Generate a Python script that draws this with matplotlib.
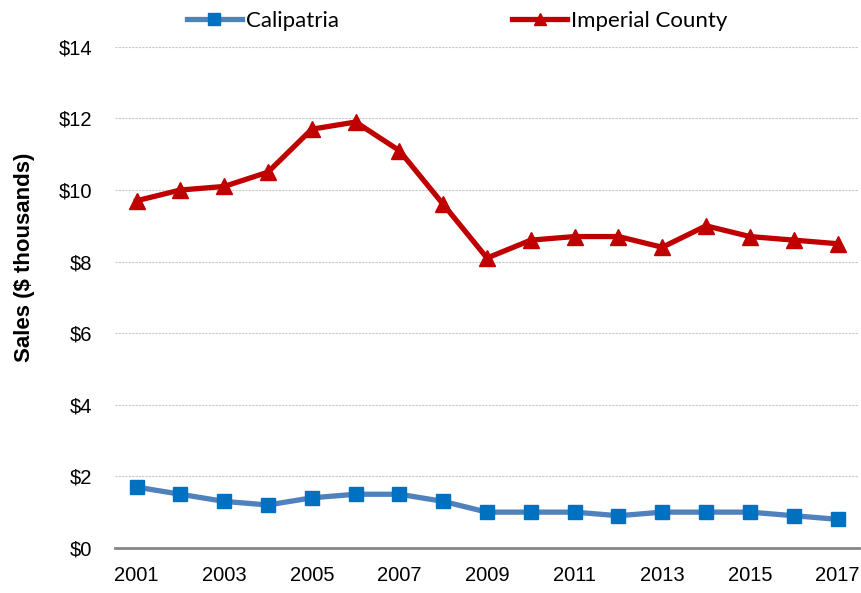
import matplotlib
matplotlib.use("Agg")
import matplotlib.pyplot as plt
from matplotlib.ticker import FuncFormatter

years = list(range(2001, 2018))
calipatria = [1.7, 1.5, 1.3, 1.2, 1.4, 1.5, 1.5, 1.3, 1.0, 1.0, 1.0, 0.9, 1.0, 1.0, 1.0, 0.9, 0.8]
imperial = [9.7, 10.0, 10.1, 10.5, 11.7, 11.9, 11.1, 9.6, 8.1, 8.6, 8.7, 8.7, 8.4, 9.0, 8.7, 8.6, 8.5]
x_ticks = list(range(2001, 2018, 2))
y_ticks = list(range(0, 15, 2))

tick_font = ["Liberation Sans", "DejaVu Sans"]

fig = plt.figure(figsize=(8.62, 5.93), dpi=100)
ax = fig.add_axes([0.133, 0.076, 0.864, 0.845])

ax.plot(years, calipatria, color="#4F81BD", lw=3.8, marker="s", ms=10,
        mfc="#0070C0", mec="#0070C0", label="Calipatria", zorder=3)
ax.plot(years, imperial, color="#C00000", lw=3.8, marker="^", ms=11,
        mfc="#C00000", mec="#C00000", label="Imperial County", zorder=3)

ax.set_xlim(2000.5, 2017.5)
ax.set_ylim(0, 14)
ax.set_xticks(x_ticks)
ax.set_yticks(y_ticks)
ax.yaxis.set_major_formatter(FuncFormatter(lambda v, p: f"${int(v)}"))
ax.grid(axis="y", color="#C8C8C8", ls=(0, (2, 1)), lw=0.8)
ax.set_axisbelow(True)
for s in ("left", "right", "top"):
    ax.spines[s].set_visible(False)
ax.spines["bottom"].set_color("#868686")
ax.spines["bottom"].set_linewidth(2)
ax.tick_params(axis="y", length=0, pad=16)
ax.tick_params(axis="x", length=0, pad=13)
for lab in ax.get_xticklabels() + ax.get_yticklabels():
    lab.set_family(tick_font)
    lab.set_fontsize(14.5)
ax.set_ylabel("Sales ($ thousands)", family=["Liberation Sans", "DejaVu Sans"],
              fontsize=16, fontweight="bold")
ax.yaxis.set_label_coords(-0.107, 0.58)

leg = fig.legend(loc="center", bbox_to_anchor=(0.530, 0.965), ncol=2,
                 frameon=False, handlelength=2.5, columnspacing=7.8,
                 handletextpad=0.15, markerscale=0.85,
                 prop={"family": "Lato", "size": 16})

fig.savefig("out.png", dpi=100)
